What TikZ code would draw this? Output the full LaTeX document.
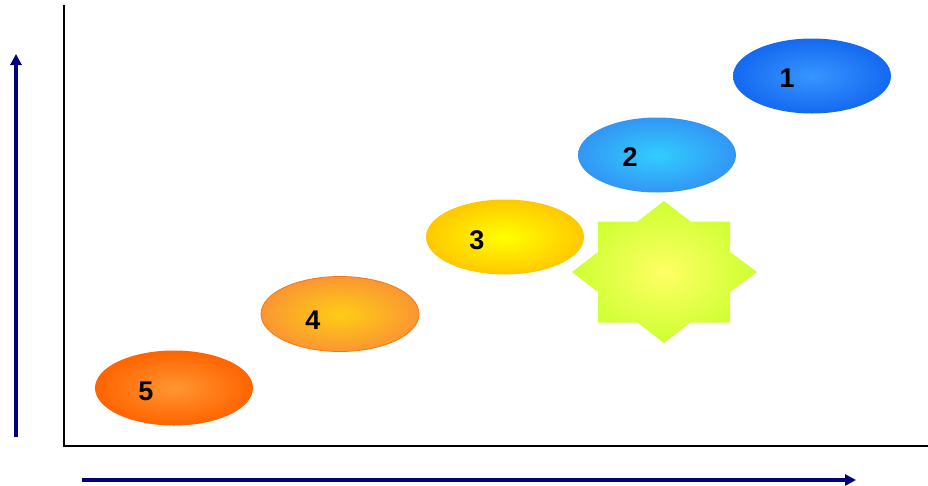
\documentclass[tikz,border=0pt]{standalone}
\usepackage{fontspec}
\setmainfont{Liberation Sans}
\usepackage{xcolor}
\usetikzlibrary{arrows.meta,positioning,shapes.geometric}

\definecolor{axisblue}{RGB}{0,0,128}
\definecolor{blueA}{RGB}{20,105,240}
\definecolor{blueAc}{RGB}{55,150,255}
\definecolor{blueB}{RGB}{50,150,245}
\definecolor{blueBc}{RGB}{50,205,255}
\definecolor{yelC}{RGB}{255,200,0}
\definecolor{yelCc}{RGB}{255,255,0}
\definecolor{oraD}{RGB}{250,150,50}
\definecolor{oraDc}{RGB}{255,205,20}
\definecolor{oraDline}{RGB}{245,120,20}
\definecolor{oraE}{RGB}{255,100,0}
\definecolor{oraEc}{RGB}{255,150,50}
\definecolor{starout}{RGB}{205,255,50}
\definecolor{starin}{RGB}{255,255,100}

\tikzset{
  stage/.style={ellipse,minimum width=158pt,minimum height=75pt,inner sep=0pt},
  digit/.style={font=\fontsize{27}{27}\selectfont\bfseries,inner sep=0pt},
  bluearrow/.style={axisblue,line width=3.5pt,-{Triangle[length=11pt,width=11pt]}}
}

\begin{document}
\begin{tikzpicture}[x=1pt,y=-1pt]
\useasboundingbox (0,0) rectangle (928,485);
% frame
\coordinate (top) at (64,5);
\coordinate (orig) at (64,446);
\coordinate (right) at (928,446);
\draw[line width=1.3pt] (top) -- (orig) -- (right);
% outer arrows
\coordinate (ya) at (16,437);
\coordinate (yb) at (16,54);
\coordinate (xa) at (82,480);
\coordinate (xb) at (856,480);
\draw[bluearrow] (ya) -- (yb);
\draw[bluearrow] (xa) -- (xb);
% star
\shade[inner color=starin,outer color=starout]
  (664,201) -- (690.6,221.5) -- (730,221.5) -- (730,251.9) -- (757,272)
  -- (730,292.1) -- (730,322.5) -- (690.6,322.5) -- (664,343)
  -- (637.4,322.5) -- (598,322.5) -- (598,292.1) -- (572,272)
  -- (598,251.9) -- (598,221.5) -- (637.4,221.5) -- cycle;
% stages
\node[stage,inner color=blueAc,outer color=blueA] (e1) at (812,76) {};
\node[stage,inner color=blueBc,outer color=blueB] (e2) at (657,155) {};
\node[stage,inner color=yelCc,outer color=yelC] (e3) at (505,237) {};
\node[stage,inner color=oraDc,outer color=oraD,draw=oraDline,line width=0.8pt] (e4) at (340,314) {};
\node[stage,inner color=oraEc,outer color=oraE] (e5) at (174,388) {};
\node[digit] (n1) at ([xshift=-25pt,yshift=-2pt]e1.center) {1};
\node[digit] (n2) at ([xshift=-27pt,yshift=-2pt]e2.center) {2};
\node[digit] (n3) at ([xshift=-28pt,yshift=-3pt]e3.center) {3};
\node[digit] (n4) at ([xshift=-27pt,yshift=-6pt]e4.center) {4};
\node[digit] (n5) at ([xshift=-28pt,yshift=-3pt]e5.center) {5};
\end{tikzpicture}
\end{document}
